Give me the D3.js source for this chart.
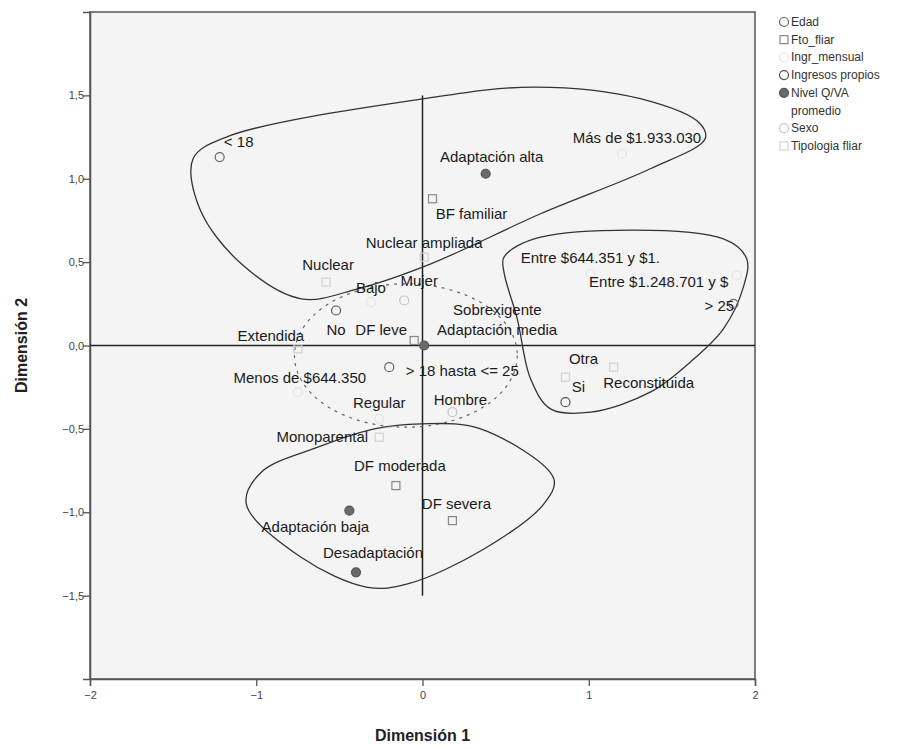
<!DOCTYPE html>
<html>
<head>
<meta charset="utf-8">
<script src="https://cdn.jsdelivr.net/npm/d3@7"></script>
<style>
  body { margin: 0; background: #fff; }
  text { font-family: "Liberation Sans", Arial, sans-serif; }
</style>
</head>
<body>
<svg id="chart" width="924" height="749"></svg>
<script>
// category points (dimension 1 / dimension 2)
const labels = [
  "< 18", "> 18 hasta <= 25", "> 25",
  "BF familiar", "DF leve", "DF moderada", "DF severa", "Sobrexigente", "Regular", "Bajo",
  "Menos de $644.350", "Entre $644.351 y $1.", "Entre $1.248.701 y $", "Más de $1.933.030",
  "Si", "No",
  "Adaptación alta", "Adaptación media", "Adaptación baja", "Desadaptación",
  "Mujer", "Hombre",
  "Nuclear", "Nuclear ampliada", "Extendida", "Monoparental", "Reconstituida", "Otra"
]
const groups = [
  "Edad", "Edad", "Edad",
  "Fto_fliar", "Fto_fliar", "Fto_fliar", "Fto_fliar", "Ingr_mensual", "Ingr_mensual", "Ingr_mensual",
  "Ingr_mensual", "Ingr_mensual", "Ingr_mensual", "Ingr_mensual",
  "Ingresos propios", "Ingresos propios",
  "Nivel Q/VA promedio", "Nivel Q/VA promedio", "Nivel Q/VA promedio", "Nivel Q/VA promedio",
  "Sexo", "Sexo",
  "Tipologia fliar", "Tipologia fliar", "Tipologia fliar", "Tipologia fliar", "Tipologia fliar", "Tipologia fliar"
]
const dim1 = [
  -1.22, -0.20, 1.87,
  0.06, -0.05, -0.16, 0.18, 0.45, -0.26, -0.31,
  -0.75, 1.01, 1.89, 1.20,
  0.86, -0.52,
  0.38, 0.01, -0.44, -0.40,
  -0.11, 0.18,
  -0.58, 0.01, -0.75, -0.26, 1.15, 0.86
]
const dim2 = [
  1.13, -0.13, 0.25,
  0.88, 0.03, -0.84, -1.05, 0.12, -0.44, 0.26,
  -0.28, 0.43, 0.42, 1.15,
  -0.34, 0.21,
  1.03, 0.00, -0.99, -1.36,
  0.27, -0.40,
  0.38, 0.53, -0.02, -0.55, -0.13, -0.19
]

// legend entries
const legendNames = ["Edad", "Fto_fliar", "Ingr_mensual", "Ingresos propios", "Nivel Q/VA promedio", "Sexo", "Tipologia fliar"]

// outlines drawn round the groups, in data units
const hullTop = [[-1.38, 1.12], [-1.18, 1.25], [0.01, 1.48], [0.68, 1.55], [1.31, 1.48], [1.67, 1.33],
  [1.70, 1.24], [1.37, 1.06], [0.71, 0.79], [0.05, 0.49], [-0.39, 0.34], [-0.73, 0.28], [-1.09, 0.49], [-1.34, 0.82]]
const hullRight = [[0.49, 0.53], [0.71, 0.65], [1.81, 0.64], [1.95, 0.52], [1.93, 0.35], [1.81, 0.10],
  [1.61, -0.10], [1.37, -0.28], [1.01, -0.40], [0.77, -0.38], [0.65, -0.20], [0.57, 0.16], [0.49, 0.44]]
const hullBottom = [[-0.01, -0.47], [0.35, -0.50], [0.79, -0.80], [0.73, -0.95], [0.37, -1.22], [-0.09, -1.43],
  [-0.33, -1.45], [-0.73, -1.27], [-1.06, -0.95], [-0.97, -0.76], [-0.63, -0.61], [-0.29, -0.50]]
// dashed centre ring: centre and radii
const ringCentre = [-0.10, -0.06]
const ringRadii = [0.67, 0.43]

const xTicks = [-2, -1, 0, 1, 2]
const yTicks = [-1.5, -1, -0.5, 0, 0.5, 1, 1.5]

// label nudges in px from the marker (layout only)
const labelNudge = [
  [19, -16], [73, 3], [-14, 2],
  [39, 15], [-33, -11], [4, -20], [4, -17], [0, -16], [0, -16], [0, -15],
  [2, -15], [0, -16], [-78, 6], [15, -16],
  [13, -16], [0, 19],
  [6, -17], [73, -16], [-34, 16], [17, -20],
  [15, -20], [8, -13],
  [2, -18], [0, -15], [-27, -13], [-57, -1], [35, 15], [18, -19]
]

const markerStyle = {
  "Edad": { shape: "circle", fill: "none", stroke: "#666" },
  "Fto_fliar": { shape: "square", fill: "none", stroke: "#888" },
  "Ingr_mensual": { shape: "circle", fill: "none", stroke: "#e4e4e4" },
  "Ingresos propios": { shape: "circle", fill: "none", stroke: "#555" },
  "Nivel Q/VA promedio": { shape: "circle", fill: "#6a6a6a", stroke: "#555" },
  "Sexo": { shape: "circle", fill: "none", stroke: "#c4c4c4" },
  "Tipologia fliar": { shape: "square", fill: "none", stroke: "#d2d2d2" }
}

const svg = d3.select("#chart")
const x = d3.scaleLinear().domain([-2, 2]).range([90, 755])
const y = d3.scaleLinear().domain([-2, 2]).range([679, 12])

svg.append("rect")
  .attr("x", x(-2)).attr("y", y(2))
  .attr("width", x(2) - x(-2)).attr("height", y(-2) - y(2))
  .attr("fill", "#f4f4f4")
  .attr("stroke", "#555").attr("stroke-width", 1.5)

// axes
const comma = v => d3.format(".1f")(v).replace(".", ",")
const yAxis = svg.append("g")
  .attr("transform", `translate(${x(-2)},0)`)
  .call(d3.axisLeft(y).tickValues(yTicks).tickSize(7).tickFormat(comma))
const xAxis = svg.append("g")
  .attr("transform", `translate(0,${y(-2)})`)
  .call(d3.axisBottom(x).tickValues(xTicks).tickSize(7).tickFormat(d3.format("d")))
;[xAxis, yAxis].forEach(g => {
  g.select(".domain").attr("stroke", "#555").attr("stroke-width", 1.5)
  g.selectAll(".tick line").attr("stroke", "#555").attr("stroke-width", 1.3)
  g.selectAll(".tick text").attr("fill", "#444").style("font-size", "11px")
    .style("font-family", "Liberation Sans, Arial, sans-serif")
})
yAxis.selectAll(".tick text").attr("x", -6)
xAxis.selectAll(".tick text").attr("y", 12)

svg.append("text")
  .attr("transform", `translate(27,${y(0)}) rotate(-90)`)
  .attr("text-anchor", "middle")
  .style("font-size", "16px").style("font-weight", "bold").attr("fill", "#222")
  .text("Dimensión 2")
svg.append("text")
  .attr("x", x(0)).attr("y", 741)
  .attr("text-anchor", "middle")
  .style("font-size", "16px").style("font-weight", "bold").attr("fill", "#222")
  .text("Dimensión 1")

// reference lines
svg.append("line")
  .attr("x1", x(-2)).attr("x2", x(2)).attr("y1", y(0)).attr("y2", y(0))
  .attr("stroke", "#222").attr("stroke-width", 1.5)
svg.append("line")
  .attr("x1", x(0)).attr("x2", x(0)).attr("y1", y(1.5)).attr("y2", y(-1.5))
  .attr("stroke", "#222").attr("stroke-width", 1.5)

// group outlines
const outline = d3.line().x(d => x(d[0])).y(d => y(d[1])).curve(d3.curveCatmullRomClosed.alpha(0.5))
;[hullTop, hullRight, hullBottom].forEach(h => {
  svg.append("path").attr("d", outline(h))
    .attr("fill", "none").attr("stroke", "#333").attr("stroke-width", 1.3)
})
svg.append("ellipse")
  .attr("cx", x(ringCentre[0])).attr("cy", y(ringCentre[1]))
  .attr("rx", x(ringCentre[0] + ringRadii[0]) - x(ringCentre[0]))
  .attr("ry", y(ringCentre[1] - ringRadii[1]) - y(ringCentre[1]))
  .attr("fill", "none").attr("stroke", "#666").attr("stroke-width", 1.2)
  .attr("stroke-dasharray", "3,5")

function drawMarker(g, group, cx, cy) {
  const s = markerStyle[group]
  if (s.shape === "square") {
    g.append("rect").attr("x", cx - 4).attr("y", cy - 4).attr("width", 8).attr("height", 8)
      .attr("fill", s.fill).attr("stroke", s.stroke).attr("stroke-width", 1.2)
  } else {
    g.append("circle").attr("cx", cx).attr("cy", cy).attr("r", 4.5)
      .attr("fill", s.fill).attr("stroke", s.stroke).attr("stroke-width", 1.2)
  }
}

const points = labels.map((l, i) => ({ label: l, group: groups[i], d1: dim1[i], d2: dim2[i], nudge: labelNudge[i] }))
const pg = svg.append("g")
points.forEach(p => drawMarker(pg, p.group, x(p.d1), y(p.d2)))
pg.selectAll("text.lbl").data(points).enter().append("text")
  .attr("class", "lbl")
  .attr("x", d => x(d.d1) + d.nudge[0])
  .attr("y", d => y(d.d2) + d.nudge[1])
  .attr("text-anchor", "middle").attr("dominant-baseline", "central")
  .style("font-size", "15px").attr("fill", "#1a1a1a")
  .text(d => d.label)

// legend
const lg = svg.append("g").attr("transform", "translate(778,22)")
let row = 0
legendNames.forEach(name => {
  drawMarker(lg, name, 6, row * 17.7)
  const words = name === "Nivel Q/VA promedio" ? ["Nivel Q/VA", "promedio"] : [name]
  words.forEach(w => {
    lg.append("text").attr("x", 13).attr("y", row * 17.7)
      .attr("dominant-baseline", "central")
      .style("font-size", "12px").attr("fill", "#333").text(w)
    row++
  })
})
</script>
</body>
</html>
